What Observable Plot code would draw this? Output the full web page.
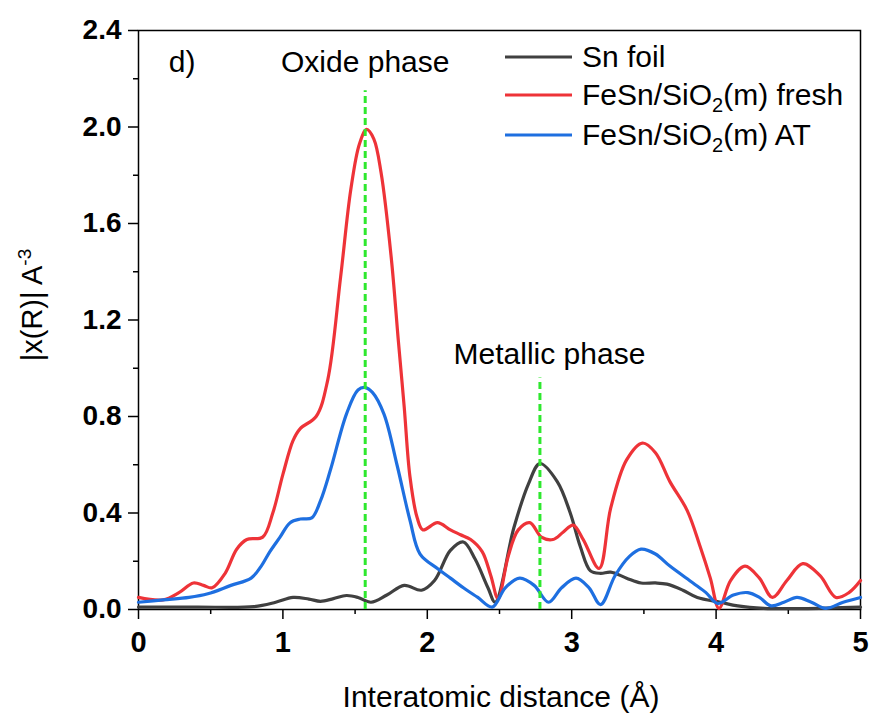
<!DOCTYPE html>
<html><head><meta charset="utf-8">
<script src="https://cdn.jsdelivr.net/npm/d3@7"></script>
<script src="https://cdn.jsdelivr.net/npm/@observablehq/plot@0.6"></script>
<style>body{margin:0;background:#fff} #chart{position:relative;width:872px;height:715px}</style>
</head><body><div id="chart"></div>
<script>
// Sn foil
const snX = [0, 0.4, 0.8, 0.95, 1.07, 1.18, 1.26, 1.35, 1.44, 1.52, 1.61, 1.72, 1.84, 1.96, 2.05, 2.16, 2.25, 2.33, 2.42, 2.47, 2.6, 2.7, 2.78, 2.9, 2.99, 3.06, 3.13, 3.2, 3.27, 3.38, 3.48, 3.58, 3.66, 3.77, 3.87, 4.03, 4.15, 4.33, 4.6, 5.0];
const snY = [0.01, 0.01, 0.012, 0.03, 0.05, 0.043, 0.034, 0.045, 0.058, 0.05, 0.03, 0.06, 0.10, 0.08, 0.12, 0.245, 0.28, 0.21, 0.09, 0.03, 0.34, 0.52, 0.605, 0.53, 0.40, 0.26, 0.16, 0.15, 0.155, 0.13, 0.11, 0.11, 0.105, 0.08, 0.05, 0.03, 0.015, 0.005, 0.004, 0.01];
// FeSn/SiO2(m) fresh
const freshX = [0, 0.17, 0.28, 0.38, 0.45, 0.51, 0.6, 0.68, 0.75, 0.86, 0.93, 1.0, 1.07, 1.12, 1.23, 1.31, 1.40, 1.47, 1.53, 1.58, 1.63, 1.68, 1.75, 1.80, 1.84, 1.88, 1.93, 1.97, 2.07, 2.16, 2.23, 2.30, 2.38, 2.44, 2.49, 2.56, 2.63, 2.71, 2.79, 2.87, 2.94, 3.01, 3.08, 3.19, 3.27, 3.38, 3.49, 3.58, 3.68, 3.80, 3.89, 3.96, 4.02, 4.1, 4.20, 4.30, 4.39, 4.49, 4.60, 4.72, 4.83, 4.92, 5.0];
const freshY = [0.05, 0.04, 0.07, 0.11, 0.10, 0.09, 0.15, 0.25, 0.29, 0.30, 0.40, 0.56, 0.70, 0.75, 0.80, 0.95, 1.38, 1.74, 1.93, 1.99, 1.95, 1.81, 1.46, 1.11, 0.84, 0.55, 0.38, 0.33, 0.36, 0.33, 0.31, 0.29, 0.24, 0.14, 0.045, 0.22, 0.33, 0.36, 0.30, 0.29, 0.32, 0.35, 0.29, 0.17, 0.42, 0.62, 0.69, 0.65, 0.53, 0.41, 0.26, 0.13, 0.005, 0.12, 0.18, 0.13, 0.05, 0.12, 0.19, 0.14, 0.05, 0.07, 0.12];
// FeSn/SiO2(m) AT
const atX = [0, 0.17, 0.35, 0.48, 0.64, 0.78, 0.85, 0.91, 0.98, 1.05, 1.12, 1.20, 1.26, 1.33, 1.44, 1.52, 1.57, 1.62, 1.70, 1.79, 1.88, 1.95, 2.07, 2.16, 2.25, 2.35, 2.45, 2.54, 2.64, 2.74, 2.84, 2.93, 3.03, 3.12, 3.20, 3.30, 3.40, 3.48, 3.58, 3.68, 3.84, 3.93, 4.01, 4.12, 4.22, 4.30, 4.38, 4.47, 4.56, 4.66, 4.76, 4.88, 5.0];
const atY = [0.03, 0.04, 0.05, 0.065, 0.10, 0.13, 0.18, 0.24, 0.30, 0.36, 0.375, 0.38, 0.45, 0.58, 0.81, 0.91, 0.92, 0.90, 0.81, 0.60, 0.37, 0.23, 0.17, 0.13, 0.09, 0.05, 0.01, 0.09, 0.13, 0.10, 0.03, 0.09, 0.13, 0.09, 0.02, 0.14, 0.22, 0.25, 0.23, 0.18, 0.11, 0.07, 0.025, 0.06, 0.07, 0.05, 0.015, 0.03, 0.05, 0.03, 0.005, 0.03, 0.05];

const xMajor = [0, 1, 2, 3, 4, 5];
const xMinor = [0.5, 1.5, 2.5, 3.5, 4.5];
const yMajor = [0, 0.4, 0.8, 1.2, 1.6, 2.0, 2.4];
const yMinor = [0.2, 0.6, 1.0, 1.4, 1.8, 2.2];

const markerX = [1.57, 2.78];
const markerTop = [2.15, 0.96];
const noteLabels = ["Oxide phase", "Metallic phase"];
const noteX = [1.57, 2.846];
const noteY = [2.267, 1.059];

const series = [
  {name: "Sn foil", color: "#404040", x: snX, y: snY},
  {name: "FeSn/SiO2(m) fresh", color: "#ee3338", x: freshX, y: freshY},
  {name: "FeSn/SiO2(m) AT", color: "#1e6fe0", x: atX, y: atY}
];
const markers = markerX.map((x, i) => ({x, top: markerTop[i]}));
const notes = noteLabels.map((label, i) => ({label, x: noteX[i], y: noteY[i]}));

const font = "'Liberation Sans', Arial, Helvetica, sans-serif";
const plot = Plot.plot({
  width: 872, height: 715,
  marginLeft: 138, marginRight: 12, marginTop: 30, marginBottom: 106,
  x: {domain: [0, 5]},
  y: {domain: [0, 2.4]},
  style: {fontFamily: font, background: "#fff", color: "#000"},
  marks: [
    Plot.axisY(yMinor, {tickSize: 5, tickFormat: () => "", label: null, strokeWidth: 1.5}),
    Plot.axisY(yMajor, {tickSize: 10, tickPadding: 7, tickFormat: d3.format(".1f"), label: null, fontSize: 28, fontWeight: "bold", strokeWidth: 1.5}),
    Plot.axisX(xMinor, {tickSize: 5, tickFormat: () => "", label: null, strokeWidth: 1.5}),
    Plot.axisX(xMajor, {tickSize: 10, tickPadding: 12, tickFormat: d3.format("d"), label: null, fontSize: 29, fontWeight: "bold", strokeWidth: 1.5}),
    Plot.frame({stroke: "#000", strokeWidth: 1.5}),
    ...series.map(s => Plot.line(s.x.map((x, i) => ({x, y: s.y[i]})), {x: "x", y: "y", stroke: s.color, strokeWidth: 3.2, curve: "catmull-rom"})),
    Plot.ruleX(markers, {x: "x", y1: 0, y2: "top", stroke: "#2ee82e", strokeWidth: 3, strokeDasharray: "7,4"}),
    Plot.text(notes, {x: "x", y: "y", text: "label", fontSize: 30, textAnchor: "middle", lineAnchor: "middle", fill: "#000"}),
    Plot.text(["d)"], {x: 0.21, y: 2.267, text: d => d, fontSize: 30, textAnchor: "start", lineAnchor: "middle", fill: "#000"})
  ]
});
document.getElementById("chart").appendChild(plot);

const svg = d3.select(plot);
// y-axis label
const yl = svg.append("text")
  .attr("transform", "translate(42,305) rotate(-90)")
  .attr("text-anchor", "middle")
  .attr("font-family", font).attr("font-size", 29).attr("fill", "#000");
yl.append("tspan").text("|x(R)| A");
yl.append("tspan").attr("dy", -11).attr("font-size", 19).text("-3");
// x-axis label
svg.append("text")
  .attr("x", 501).attr("y", 707)
  .attr("text-anchor", "middle")
  .attr("font-family", font).attr("font-size", 30).attr("fill", "#000")
  .text("Interatomic distance (Å)");
// legend
const legendY = [57, 95, 135];
series.forEach((s, i) => {
  const y = legendY[i];
  svg.append("line").attr("x1", 505).attr("x2", 572).attr("y1", y).attr("y2", y)
    .attr("stroke", s.color).attr("stroke-width", 3.2);
  const t = svg.append("text").attr("x", 582).attr("y", y + 10)
    .attr("text-anchor", "start")
    .attr("font-family", font).attr("font-size", 30).attr("fill", "#000");
  const m = s.name.match(/^(.*SiO)2(.*)$/);
  if (m) {
    t.append("tspan").text(m[1]);
    t.append("tspan").attr("dy", 7).attr("font-size", 20).text("2");
    t.append("tspan").attr("dy", -7).text(m[2]);
  } else {
    t.text(s.name);
  }
});
</script>
</body></html>
